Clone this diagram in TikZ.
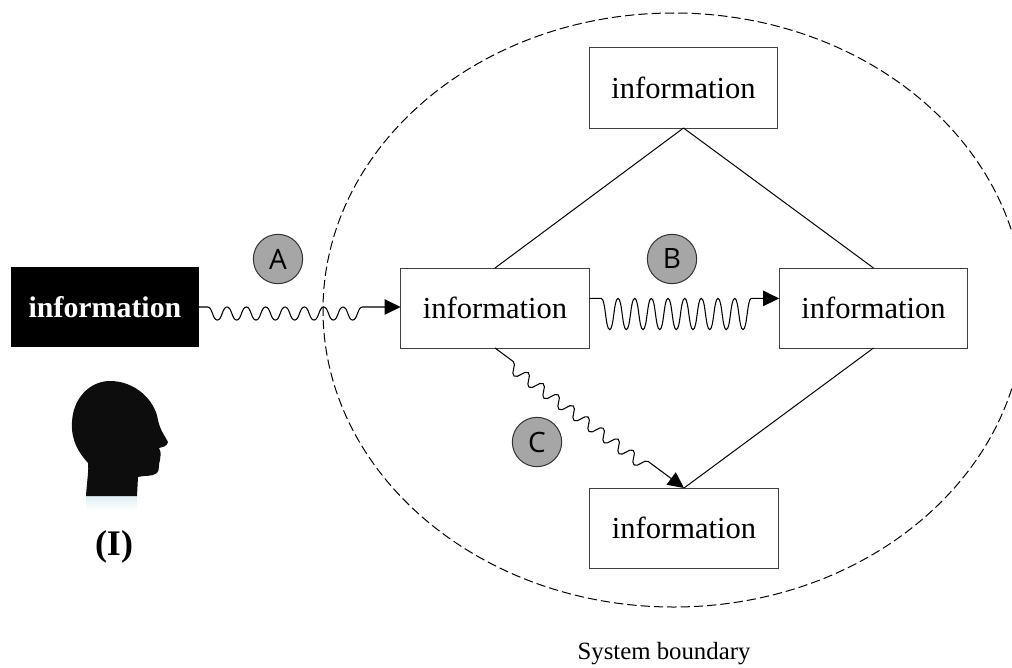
\documentclass[tikz,border=0pt]{standalone}
\usepackage{fontspec}
\setmainfont{Liberation Serif}
\newfontfamily\lettersf{Open Sans}
\usetikzlibrary{arrows.meta,decorations}
\definecolor{headglow}{HTML}{DDEEF2}
\pgfdeclaredecoration{crest wave}{wave}{
    \state{wave}[switch if less than=\pgfdecorationsegmentlength to final, width=\pgfdecorationsegmentlength]{
        \pgfpathcurveto{\pgfpoint{0.25\pgfdecorationsegmentlength}{0pt}}{\pgfpoint{0.25\pgfdecorationsegmentlength}{-2\pgfdecorationsegmentamplitude}}{\pgfpoint{0.5\pgfdecorationsegmentlength}{-2\pgfdecorationsegmentamplitude}}
        \pgfpathcurveto{\pgfpoint{0.75\pgfdecorationsegmentlength}{-2\pgfdecorationsegmentamplitude}}{\pgfpoint{0.75\pgfdecorationsegmentlength}{0pt}}{\pgfpoint{\pgfdecorationsegmentlength}{0pt}}
    }
    \state{final}{\pgfpathlineto{\pgfpointdecoratedpathlast}}
}
\tikzset{
    infobox/.style={draw=black!75, fill=white, line width=0.75pt, minimum width=141.5pt, minimum height=60pt, inner sep=0pt, outer sep=0pt, font=\fontsize{22.9}{24}\selectfont},
    markcircle/.style={draw=black!80, fill=black!35, line width=0.75pt, circle, minimum size=37pt, inner sep=0pt, font=\lettersf\fontsize{21}{23}\selectfont},
    wavyarrow/.style={line width=0.8pt, -{Triangle[length=12pt,width=11.5pt]}, decorate},
}
\begin{document}
\begin{tikzpicture}[x=0.75pt,y=-0.75pt]
    \clip (0,0) rectangle (1012,667);

    % system boundary
    \draw[dashed, dash pattern=on 7pt off 3pt, line width=0.75pt] (673.6,310) ellipse [x radius=350.6, y radius=297];
    \node[font=\fontsize{18.6}{22}\selectfont] (boundary) at (664,654) {System boundary};

    % information boxes
    \node[infobox] (infotop) at (683.5,88) {information};
    \node[infobox] (infoleft) at (495,308) {information};
    \node[infobox] (inforight) at (873.5,308) {information};
    \node[infobox] (infobottom) at (684,528) {information};
    \node[fill=black, text=white, minimum width=141pt, minimum height=60pt, inner sep=0pt, outer sep=0pt, font=\fontsize{22.4}{24}\bfseries\selectfont] (infouser) at (105,307) {information};

    % plain links
    \draw[line width=0.75pt] (infotop.south) -- (infoleft.north);
    \draw[line width=0.75pt] (infotop.south) -- (inforight.north);
    \draw[line width=0.75pt] (inforight.south) -- (infobottom.north);

    % wavy arrows
    \draw[wavyarrow, decoration={crest wave, amplitude=4.9pt, segment length=14.5pt, pre length=6.5pt, post length=28pt}] (infouser.east) -- (infoleft.west |- infouser.east);
    \draw[wavyarrow, decoration={crest wave, amplitude=11.7pt, segment length=12.5pt, pre length=9pt, post length=20pt}] ([yshift=7.2pt]infoleft.east) -- ([yshift=7.2pt]inforight.west);
    \draw[wavyarrow, decoration={crest wave, amplitude=4.2pt, segment length=14pt, pre length=17pt, post length=32.8pt}] (infoleft.south) -- (infobottom.north);

    % letters
    \node[markcircle] (markA) at (278,259) {A};
    \node[markcircle] (markB) at (672,259) {B};
    \node[markcircle] (markC) at (537,442) {C};

    % head
    \shade[top color=headglow, bottom color=white] (86,496) rectangle (137,510);
    \fill[black!95] (86,496) .. controls (87,480) and (89,470) .. (88,463)
        .. controls (78,452) and (71,440) .. (72,422)
        .. controls (73,398) and (90,381) .. (110,381)
        .. controls (135,381) and (155,400) .. (158,420)
        .. controls (160,430) and (165,436) .. (168,442)
        .. controls (167,447) and (162,447) .. (159,448)
        .. controls (162,453) and (160,457) .. (160,460)
        .. controls (158,465) and (160,470) .. (157,473)
        .. controls (152,477) and (145,475) .. (138,477)
        -- (137,496) -- cycle;
    \node[font=\fontsize{27}{30}\bfseries\selectfont] (labelI) at (114,547) {(I)};
\end{tikzpicture}
\end{document}
